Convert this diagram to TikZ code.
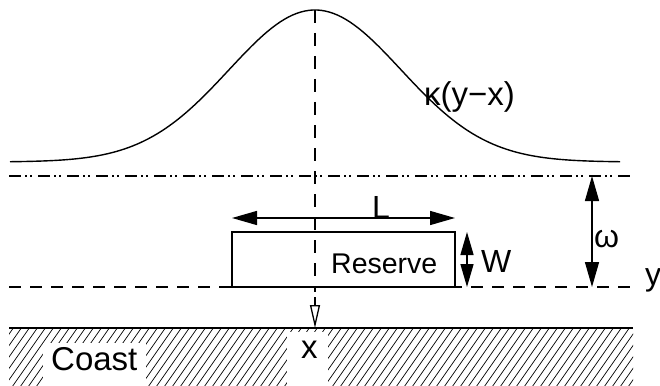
\documentclass[tikz,border=0pt]{standalone}
\usepackage{fontspec}
\setmainfont{Liberation Sans}
\usetikzlibrary{arrows.meta}
\begin{document}
\begin{tikzpicture}[x=1pt,y=-1pt,
  lbl/.style={anchor=base west,inner sep=0pt,font=\fontsize{32}{32}\selectfont},
  dimarrow/.style={line width=1.4pt,{Triangle[length=25pt,width=14pt]}-{Triangle[length=25pt,width=14pt]}},
  thin line/.style={line width=1.2pt}]
\useasboundingbox (0,0) rectangle (660,385);
% hatching
\begin{scope}
\clip (9,328) rectangle (633,385);
\foreach \i in {-60,-52,...,640}
  \draw[line width=0.7pt] (\i,387) -- ++(42,-60);
\end{scope}
\fill[white] (43,343) rectangle (146,386);
\fill[white] (287,332) rectangle (328,386);
\node[lbl,font=\fontsize{33}{33}\selectfont] (coast) at (51,370) {Coast};
\node[lbl,font=\fontsize{33}{33}\selectfont] (xl) at (301,358) {x};
\draw[line width=1.8pt] (9,328) coordinate (cl) -- (633,328) coordinate (cr);
% curve
\draw[line width=1.4pt] plot[domain=10:620,samples=150]
  (\x,{162-152*exp(-0.5*((\x-315)/86)^2)});
\coordinate (peak) at (315,10);
% dash-dot line
\draw[line width=1.1pt,dash pattern=on 12pt off 4pt on 2pt off 3pt on 2pt off 6pt] (9,176) coordinate (dl) -- (633,176) coordinate (dr);
% dashed y line
\draw[line width=1.1pt,dash pattern=on 12pt off 9pt] (9,287) coordinate (yl) -- (633,287) coordinate (yr);
% vertical dashed
\coordinate (vb) at (315,292);
\draw[line width=1.3pt,dash pattern=on 13pt off 10pt] (peak) -- (vb);
\coordinate (vs) at (315,297);
\coordinate (vt) at (315,328);
\draw[line width=1.3pt,-{Triangle[open,length=23pt,width=10pt]}] (vs) -- (vt);
% reserve
\draw[thin line] (232,232) rectangle (455,287);
\node[lbl,font=\fontsize{28.5}{28.5}\selectfont] (res) at (331,273) {Reserve};
% L arrow
\coordinate (La) at (232,218);
\coordinate (Lb) at (455,218);
\draw[dimarrow] (La) -- (Lb);
\node[lbl] (L) at (372,218) {L};
% W arrow
\coordinate (Wa) at (467,232);
\coordinate (Wb) at (467,287);
\draw[line width=1.4pt,{Triangle[length=23pt,width=13pt]}-{Triangle[length=23pt,width=13pt]}] (Wa) -- (Wb);
\node[lbl] (W) at (481,272) {W};
% omega arrow
\coordinate (oa) at (592,176);
\coordinate (ob) at (592,287);
\draw[dimarrow] (oa) -- (ob);
\node[lbl] (om) at (594,247) {ω};
\node[lbl] (y) at (645,285) {y};
\node[lbl,font=\fontsize{33}{33}\selectfont] (kap) at (424,106) {κ(y−x)};
\end{tikzpicture}
\end{document}
